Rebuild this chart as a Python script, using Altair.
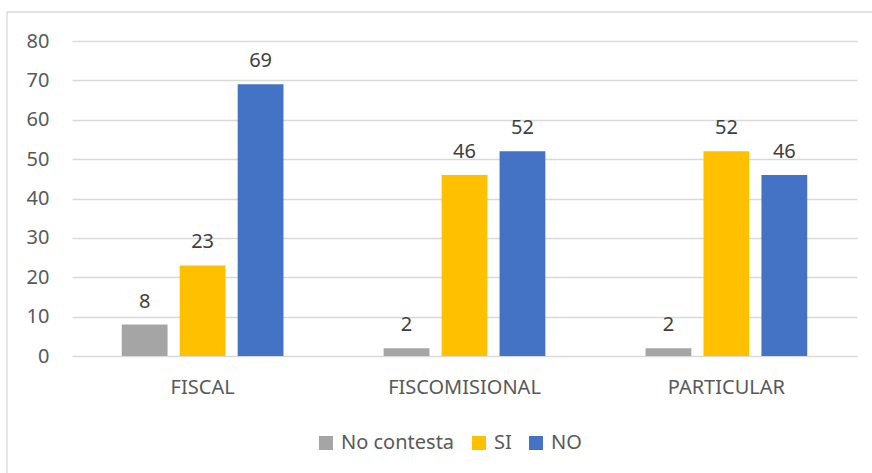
import altair as alt
import pandas as pd

# Survey answers per school type
categories = ["FISCAL", "FISCOMISIONAL", "PARTICULAR"]
series = ["No contesta", "SI", "NO"]
no_contesta = [8, 2, 2]
si = [23, 46, 52]
no = [69, 52, 46]
colors = ["#A5A5A5", "#FFC000", "#4472C4"]
y_ticks = [0, 10, 20, 30, 40, 50, 60, 70, 80]

rows = []
for i, cat in enumerate(categories):
    for name, vals in zip(series, [no_contesta, si, no]):
        rows.append({"categoria": cat, "respuesta": name, "valor": vals[i]})
df = pd.DataFrame(rows)

FONT = "Noto Sans"
FONT_SIZE = 20
AXIS_COLOR = "#595959"
GRID = "#D9D9D9"

x_enc = alt.X(
    "categoria:N",
    sort=categories,
    scale=alt.Scale(paddingInner=0.3825, paddingOuter=0.19),
    axis=alt.Axis(
        title=None, labelAngle=0, domain=False, ticks=False,
        labelPadding=21, labelFontSize=FONT_SIZE, labelColor=AXIS_COLOR, labelFont=FONT,
    ),
)
xoff_enc = alt.XOffset("respuesta:N", sort=series, scale=alt.Scale(paddingInner=0.21))
y_enc = alt.Y(
    "valor:Q",
    scale=alt.Scale(domain=[0, 80], nice=False),
    axis=alt.Axis(
        values=y_ticks, title=None, domain=False, ticks=False,
        grid=True, gridColor=GRID, gridWidth=1.3, labelOverlap=False,
        labelPadding=23, labelFontSize=FONT_SIZE, labelColor=AXIS_COLOR, labelFont=FONT,
    ),
)

bars = alt.Chart(df).mark_bar().encode(
    x=x_enc,
    xOffset=xoff_enc,
    y=y_enc,
    color=alt.Color(
        "respuesta:N",
        sort=series,
        scale=alt.Scale(domain=series, range=colors),
        legend=alt.Legend(
            title=None, orient="none", direction="horizontal",
            legendX=244, legendY=392,
            symbolType="square", symbolSize=196, symbolStrokeWidth=0,
            symbolOpacity=1,
            labelFontSize=FONT_SIZE, labelFont=FONT, labelColor=AXIS_COLOR,
            labelOffset=5, columnPadding=14,
        ),
    ),
)

labels = alt.Chart(df).mark_text(
    baseline="alphabetic", dy=-17, fontSize=FONT_SIZE, font=FONT, color="#404040"
).encode(
    x=x_enc,
    xOffset=xoff_enc,
    y=y_enc,
    text=alt.Text("valor:Q"),
)

# Thin frame around the chart (left and top edges)
frame_df = pd.DataFrame({"k": [0]})
frame_left = alt.Chart(frame_df).mark_rule(color=GRID, strokeWidth=1.3).encode(
    x=alt.value(-65), y=alt.value(-29), y2=alt.value(440)
)
frame_top = alt.Chart(frame_df).mark_rule(color=GRID, strokeWidth=1.3).encode(
    x=alt.value(-65), x2=alt.value(810), y=alt.value(-29)
)

chart = (
    alt.layer(bars, labels, frame_left, frame_top)
    .properties(
        width=785,
        height=315,
        autosize=alt.AutoSizeParams(type="none"),
        padding={"left": 72, "top": 41, "right": 15, "bottom": 117},
        background="white",
    )
    .configure_view(stroke=None)
)

chart.save("out.html", embed_options={"renderer": "svg", "actions": False})
